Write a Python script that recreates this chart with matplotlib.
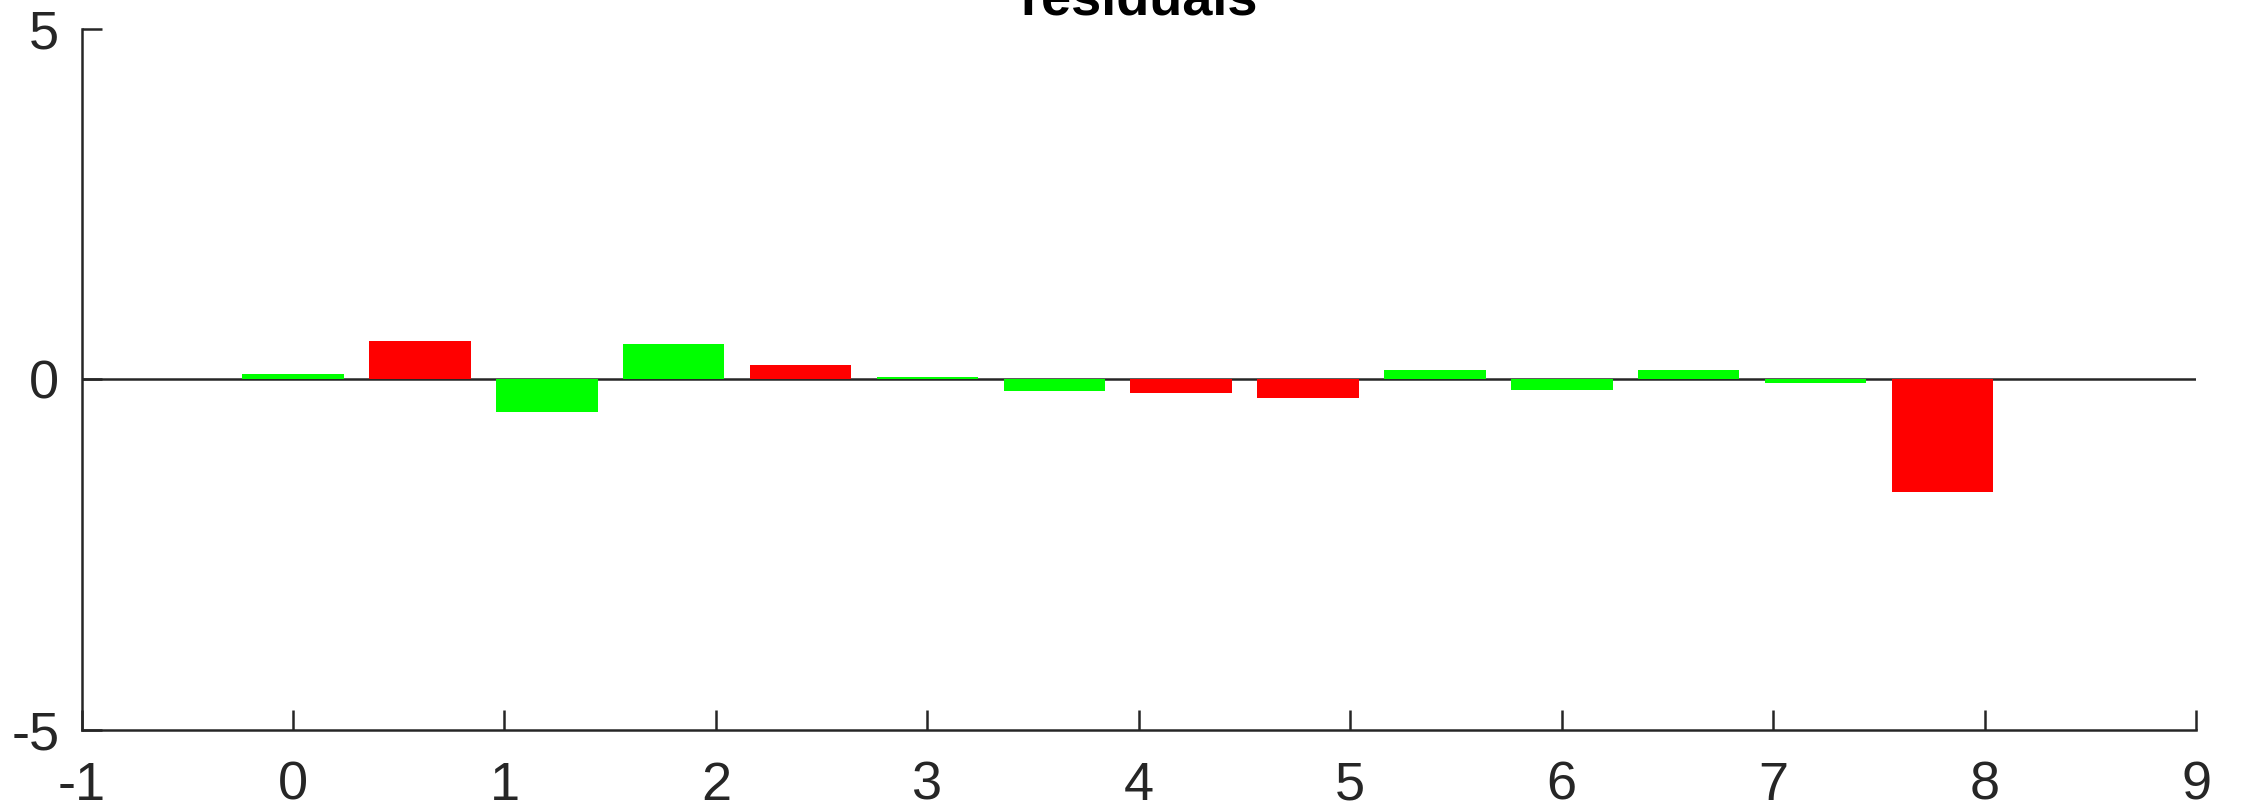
import matplotlib
matplotlib.use("Agg")
import matplotlib.pyplot as plt
import numpy as np

# residual per observation, plotted at 0.6 spacing
positions = [0.0, 0.6, 1.2, 1.8, 2.4, 3.0, 3.6, 4.2, 4.8, 5.4, 6.0, 6.6, 7.2, 7.8]
residuals = [0.07, 0.55, -0.46, 0.50, 0.21, 0.03, -0.17, -0.19, -0.27, 0.13, -0.15, 0.13, -0.06, -1.60]
flags = ["g", "r", "g", "g", "r", "g", "g", "r", "r", "g", "g", "g", "g", "r"]
x_ticks = [-1, 0, 1, 2, 3, 4, 5, 6, 7, 8, 9]
y_ticks = [-5, 0, 5]

palette = {"g": (0.0, 1.0, 0.0), "r": (1.0, 0.0, 0.0)}
colors = [palette[f] for f in flags]

plt.rcParams["font.family"] = ["Liberation Sans", "DejaVu Sans"]
axis_color = (0.15, 0.15, 0.15)

fig = plt.figure(figsize=(22.41, 8.07), dpi=100)
ax = fig.add_axes([0.0364, 0.0954, 0.9436, 0.8692])

ax.bar(positions, residuals, width=0.48, color=colors, edgecolor="none", zorder=2)
ax.axhline(0, color=axis_color, linewidth=1.8, zorder=1)

ax.set_xlim(-1, 9)
ax.set_ylim(-5, 5)
ax.set_xticks(x_ticks)
ax.set_yticks(y_ticks)
ax.set_xticklabels([str(t) for t in x_ticks])
ax.set_yticklabels([str(t) for t in y_ticks])

for side in ("top", "right"):
    ax.spines[side].set_visible(False)
for side in ("left", "bottom"):
    ax.spines[side].set_color(axis_color)
    ax.spines[side].set_linewidth(1.8)

ax.tick_params(axis="both", direction="in", length=14.5, width=1.8,
               color=axis_color, labelcolor=axis_color, labelsize=39)
ax.tick_params(axis="x", pad=22)
ax.tick_params(axis="y", pad=16)

ax.set_title("residuals", fontsize=39, fontweight="bold", pad=10)

fig.savefig("out.png", dpi=100)
